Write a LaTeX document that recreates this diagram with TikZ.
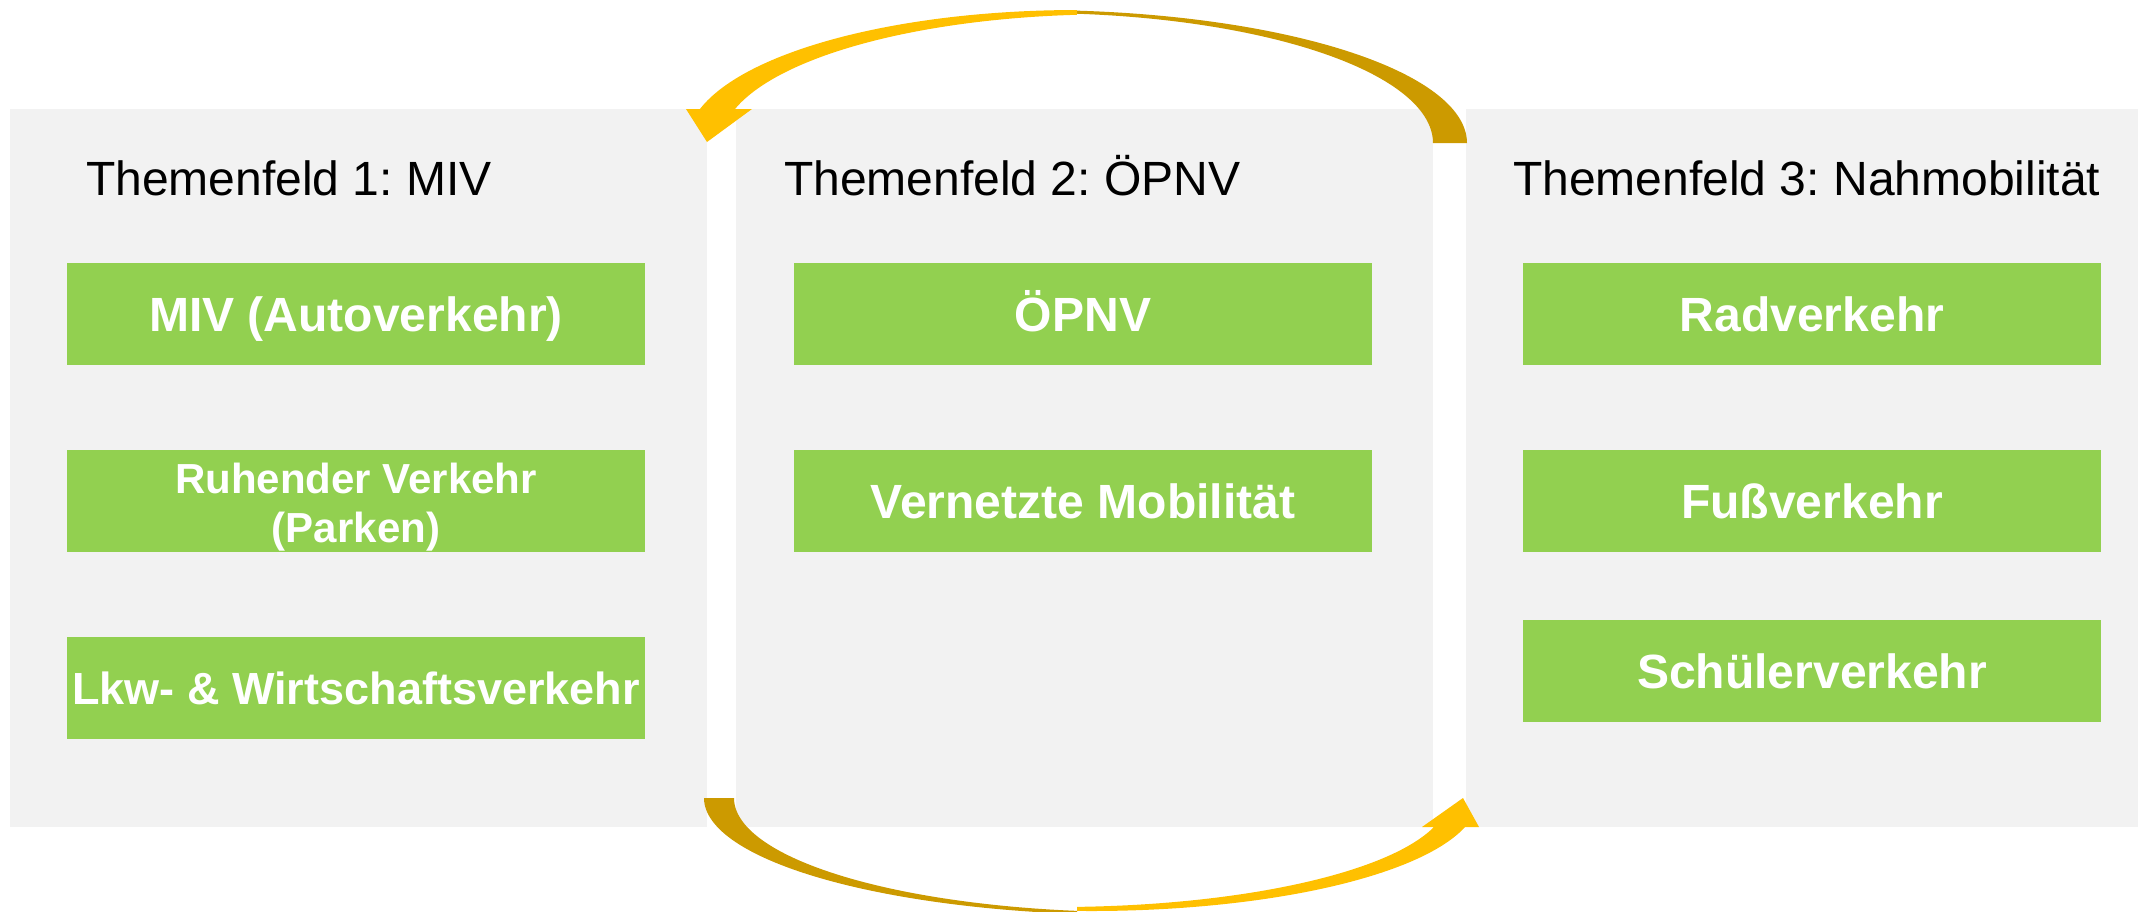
\documentclass[tikz,border=0pt]{standalone}
\usepackage{fontspec}
\setmainfont{Liberation Sans}
\frenchspacing
\definecolor{panelgray}{HTML}{F2F2F2}
\definecolor{boxgreen}{HTML}{92D050}
\definecolor{arrowbright}{HTML}{FFC000}
\definecolor{arrowdark}{HTML}{CC9A00}
\begin{document}
\begin{tikzpicture}[x=0.01cm,y=-0.01cm,
  panel/.style={fill=panelgray, draw=none, inner sep=0pt, outer sep=0pt, anchor=north west},
  ttl/.style={anchor=base west, inner sep=0pt, outer sep=0pt, text=black, font=\fontsize{13.66}{16}\selectfont},
  gbox/.style={fill=boxgreen, draw=none, inner sep=0pt, outer sep=0pt, minimum width=5.78cm, minimum height=1.02cm,
    text=white, font=\bfseries\fontsize{13.66}{16}\selectfont},
  gtxt/.style={gbox, text height=9.78pt, text depth=0pt},
  ell/.style={samples=80, variable=\t}]
\useasboundingbox (0,0) rectangle (2138,911);
% panels
\node[panel, minimum width=6.97cm, minimum height=7.18cm] (p1) at (10,109) {};
\node[panel, minimum width=6.97cm, minimum height=7.18cm] (p2) at (736,109) {};
\node[panel, minimum width=6.72cm, minimum height=7.18cm] (p3) at (1466,109) {};
% top arrow (right part, dark)
\fill[arrowdark] plot[ell, domain=0:84.42] ({1035+432*cos(\t)},{143-133*sin(\t)})
  -- plot[ell, domain=83.94:0] ({1035+398*cos(\t)},{143-130*sin(\t)}) -- cycle;
% top arrow (left part with head, bright)
\fill[arrowbright] plot[ell, domain=90:165.2] ({1077+390*cos(\t)},{143-133*sin(\t)})
  -- (686,109) -- (707,142) -- (752,109) -- (735,109)
  -- plot[ell, domain=164.68:94.9] ({1110+388.8*cos(\t)},{143-128.7*sin(\t)}) -- cycle;
% bottom arrow (left part, dark)
\fill[arrowdark] plot[ell, domain=180:97.5] ({1133+429*cos(\t)},{798+117*sin(\t)})
  -- plot[ell, domain=98.07:180] ({1133+399*cos(\t)},{798+114*sin(\t)}) -- cycle;
% bottom arrow (right part with head, bright)
\fill[arrowbright] plot[ell, domain=92.07:14.87] ({1091+387*cos(\t)},{798+113*sin(\t)})
  -- (1479,827) -- (1463,798) -- (1422,827) -- (1434,827)
  -- plot[ell, domain=15.43:87.2] ({1058+390*cos(\t)},{798+109*sin(\t)}) -- cycle;
% titles
\node[ttl] (t1) at (86,195) {Themenfeld 1: MIV};
\node[ttl] (t2) at (784,195) {Themenfeld 2: ÖPNV};
\node[ttl] (t3) at (1513,195) {Themenfeld 3: Nahmobilität};
% boxes
\node[gtxt] (b11) at (356,314) {MIV (Autoverkehr)};
\node[gbox, align=center, font=\bfseries\fontsize{11.95}{13.94}\selectfont, text height=23.6pt, text depth=0pt] (b12) at (356,501) {Ruhender Verkehr\\(Parken)};
\node[gtxt, font=\bfseries\fontsize{12.8}{15}\selectfont, text height=9.16pt] (b13) at (356,688) {Lkw- \& Wirtschaftsverkehr};
\node[gtxt] (b21) at (1083,314) {ÖPNV};
\node[gtxt] (b22) at (1083,501) {Vernetzte Mobilität};
\node[gtxt] (b31) at (1812,314) {Radverkehr};
\node[gtxt] (b32) at (1812,501) {Fußverkehr};
\node[gtxt] (b33) at (1812,671) {Schülerverkehr};
\end{tikzpicture}
\end{document}
